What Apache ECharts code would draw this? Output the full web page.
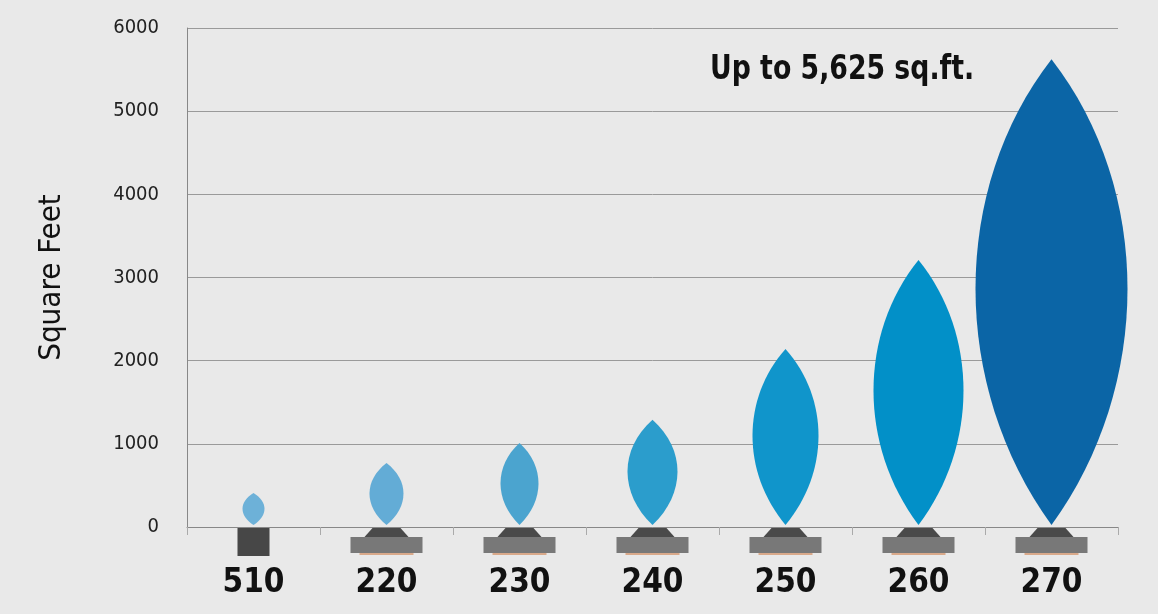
<!DOCTYPE html>
<html>
<head>
<meta charset="utf-8">
<script src="https://cdn.jsdelivr.net/npm/echarts@6/dist/echarts.min.js"></script>
<style>
html, body { margin: 0; padding: 0; background: #e9e9e9; }
#chart { width: 1158px; height: 614px; }
</style>
</head>
<body>
<div id="chart"></div>
<script>
var models = ['510', '220', '230', '240', '250', '260', '270'];
var coverage = [410, 770, 1010, 1290, 2140, 3210, 5625];
var flameColors = ['#6db1d8', '#63acd6', '#4ba4cf', '#2b9dcc', '#1095cb', '#0290c8', '#0b65a6'];
var yTicks = [0, 1000, 2000, 3000, 4000, 5000, 6000];

var condensed = '"DejaVu Sans Condensed", "Liberation Sans Narrow", "Roboto Condensed", sans-serif';
var dom = document.getElementById('chart');
var myChart = echarts.init(dom);

// flame widths in px
var flameWidth = [22, 34, 38, 50, 66, 90, 152];

var renderFlame = function (params, api) {
    var i = api.value(0);
    var top = api.coord([i, api.value(1)]);
    var bot = api.coord([i, 0]);
    var k = flameWidth[i] / 2 / 0.75;
    var x = bot[0], y0 = bot[1] - 2, y1 = top[1];
    var h = y0 - y1;
    var path = 'M' + x + ' ' + y0 +
        ' C' + (x - k) + ' ' + (y0 - h * 0.3) + ' ' + (x - k) + ' ' + (y1 + h * 0.28) + ' ' + x + ' ' + y1 +
        ' C' + (x + k) + ' ' + (y1 + h * 0.28) + ' ' + (x + k) + ' ' + (y0 - h * 0.3) + ' ' + x + ' ' + y0 + 'Z';
    var children = [{
        type: 'path',
        shape: { pathData: path },
        style: { fill: flameColors[i] }
    }];
    if (i === 0) {
        children.push({ type: 'rect', shape: { x: x - 16, y: y0 + 3, width: 32, height: 28 }, style: { fill: '#474747' } });
    } else {
        children.push({ type: 'polygon', shape: { points: [[x - 14, y0 + 3], [x + 14, y0 + 3], [x + 22, y0 + 12], [x - 22, y0 + 12]] }, style: { fill: '#4a4a4a' } });
        children.push({ type: 'rect', shape: { x: x - 36, y: y0 + 12, width: 72, height: 16 }, style: { fill: '#787878' } });
        children.push({ type: 'rect', shape: { x: x - 27, y: y0 + 28, width: 54, height: 2 }, style: { fill: '#d9a98a' } });
    }
    return { type: 'group', children: children };
};

var option = {
    backgroundColor: '#e9e9e9',
    animation: false,
    grid: { left: 187, right: 40, top: 28, bottom: 87 },
    xAxis: {
        type: 'category',
        data: models,
        axisLine: { lineStyle: { color: '#888' } },
        axisTick: { show: true, length: 8, lineStyle: { color: '#aaa' } },
        axisLabel: { margin: 40, fontSize: 33, fontWeight: 'bold', color: '#111', fontFamily: condensed }
    },
    yAxis: {
        type: 'value',
        min: 0,
        max: 6000,
        interval: 1000,
        name: 'Square Feet',
        nameLocation: 'middle',
        nameGap: 120,
        nameTextStyle: { fontSize: 31, color: '#111', fontFamily: condensed },
        axisLine: { show: true, lineStyle: { color: '#888' } },
        axisLabel: {
            fontSize: 20, color: '#222', margin: 28, fontFamily: condensed,
            formatter: function (v) { return yTicks.indexOf(v) >= 0 ? String(v) : ''; }
        },
        splitLine: { lineStyle: { color: '#9a9a9a' } }
    },
    series: [{
        type: 'custom',
        renderItem: renderFlame,
        data: coverage.map(function (v, i) { return [i, v]; }),
        encode: { x: 0, y: 1 },
        z: 3
    }],
    graphic: [{
        type: 'text',
        left: 710, top: 54,
        scaleX: 0.9,
        style: { text: 'Up to 5,625 sq.ft.', fontSize: 33, fontWeight: 'bold', fill: '#111', fontFamily: condensed }
    }]
};
myChart.setOption(option, true);
</script>
</body>
</html>
